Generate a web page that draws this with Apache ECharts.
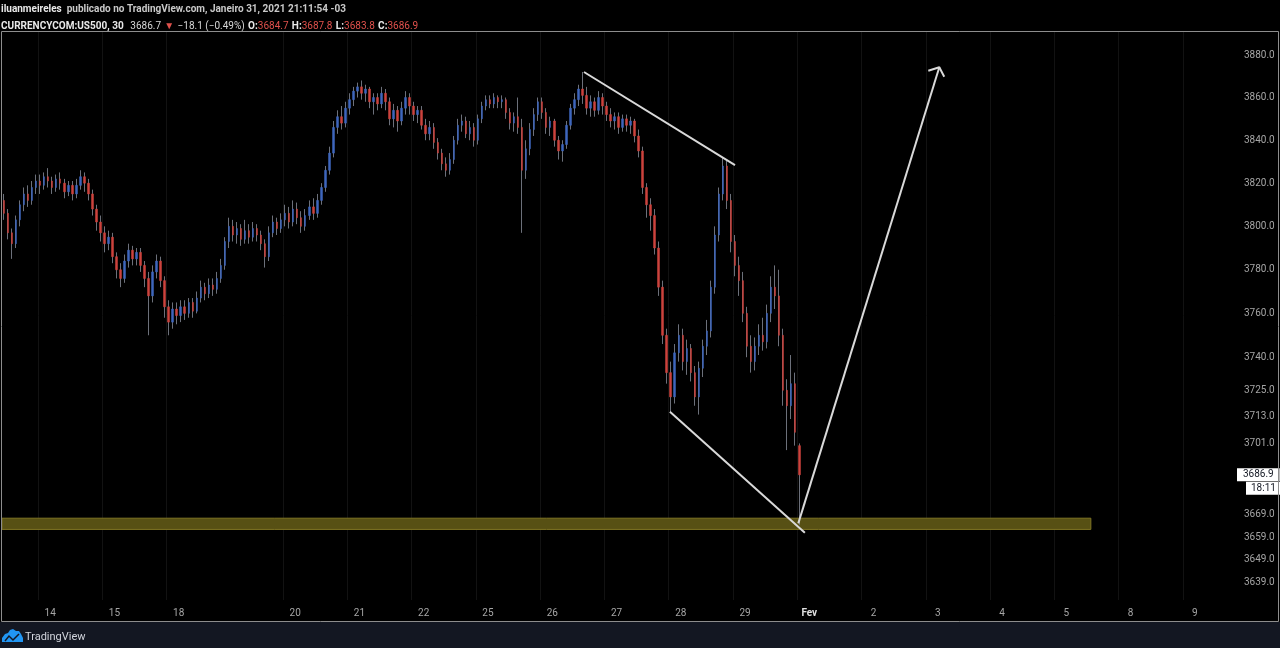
<!DOCTYPE html>
<html><head><meta charset="utf-8">
<script src="https://cdn.jsdelivr.net/npm/echarts@6/dist/echarts.min.js"></script>
<style>html,body{margin:0;padding:0;background:#000;overflow:hidden}#c{width:1280px;height:648px}</style>
</head><body><div id="c"></div>
<script>
// ---- sessions (30-min CFD, aggregated to ~16 bars per session) ----
const sessionLabels = ['13','14','15','18','19','20','21','22','25','26','27','28','29','Fev','2','3','4','5','8','9'];
const sessionSlots  = [9,16,16,13,16,16,16,16,16,16,16,16,16,16,16,16,16,16,16,11];
const hiddenLabels  = ['13','19'];

// ---- candles [open, close, low, high] ----
const jan13 = [[3812,3806,3803,3815],[3806,3797,3794,3808],[3797,3792,3785,3799],[3792,3803,3790,3805],[3803,3810,3800,3812],[3810,3815,3807,3818],[3815,3812,3809,3819],[3812,3818,3810,3821],[3818,3821,3815,3824]];
const jan14 = [[3821,3819,3815,3824],[3819,3823,3817,3825],[3823,3821,3818,3827],[3821,3818,3815,3823],[3818,3822,3816,3824],[3822,3820,3817,3825],[3820,3816,3813,3822],[3816,3819,3814,3821],[3819,3815,3812,3821],[3815,3819,3813,3822],[3819,3823,3817,3826],[3823,3820,3816,3825],[3820,3815,3812,3822],[3815,3808,3805,3817],[3808,3802,3798,3810],[3802,3797,3793,3805]];
const jan15 = [[3797,3792,3788,3800],[3792,3795,3789,3798],[3795,3786,3783,3797],[3786,3780,3776,3788],[3780,3776,3772,3783],[3776,3784,3774,3787],[3784,3789,3781,3792],[3789,3785,3782,3791],[3785,3788,3782,3790],[3788,3782,3779,3790],[3782,3776,3772,3784],[3776,3768,3750,3779],[3768,3779,3765,3782],[3779,3784,3776,3787],[3784,3775,3772,3786],[3775,3763,3758,3777]];
const jan18 = [[3763,3756,3750,3766],[3756,3762,3753,3765],[3762,3759,3755,3765],[3759,3763,3756,3766],[3763,3760,3757,3766],[3760,3765,3758,3767],[3765,3761,3758,3767],[3761,3767,3760,3770],[3767,3772,3765,3775],[3772,3769,3766,3774],[3769,3773,3767,3776],[3773,3771,3768,3776],[3771,3776,3769,3779]];
const jan19 = [[3776,3782,3774,3785],[3782,3793,3780,3795],[3793,3800,3790,3804],[3800,3796,3793,3803],[3796,3799,3792,3802],[3799,3794,3791,3801],[3794,3798,3792,3803],[3798,3795,3792,3801],[3795,3799,3793,3802],[3799,3796,3793,3801],[3796,3792,3789,3798],[3792,3786,3781,3794],[3786,3797,3784,3800],[3797,3802,3795,3805],[3802,3799,3796,3804],[3799,3803,3797,3806]];
const jan20 = [[3803,3806,3800,3810],[3806,3802,3799,3809],[3802,3808,3800,3812],[3808,3804,3801,3811],[3804,3800,3797,3807],[3800,3805,3798,3808],[3805,3809,3803,3812],[3809,3806,3803,3813],[3806,3812,3804,3815],[3812,3818,3810,3820],[3818,3826,3816,3828],[3826,3834,3824,3837],[3834,3846,3832,3849],[3846,3851,3843,3854],[3851,3848,3845,3856],[3848,3855,3846,3858]];
const jan21 = [[3855,3859,3852,3862],[3859,3863,3856,3865],[3863,3865,3860,3867],[3865,3862,3859,3868],[3862,3864,3858,3866],[3864,3858,3855,3865],[3858,3860,3852,3862],[3860,3857,3854,3862],[3857,3862,3855,3865],[3862,3858,3854,3864],[3858,3850,3847,3860],[3850,3854,3846,3857],[3854,3849,3844,3856],[3849,3855,3847,3858],[3855,3860,3852,3863],[3860,3856,3852,3862]];
const jan22 = [[3856,3852,3849,3858],[3852,3854,3848,3856],[3854,3847,3845,3856],[3847,3843,3840,3850],[3843,3846,3840,3849],[3846,3839,3836,3848],[3839,3834,3831,3841],[3834,3829,3826,3836],[3829,3826,3823,3832],[3826,3831,3824,3834],[3831,3840,3829,3842],[3840,3847,3838,3850],[3847,3849,3844,3852],[3849,3843,3841,3851],[3843,3846,3840,3849],[3846,3840,3837,3848]];
const jan25 = [[3840,3850,3838,3852],[3850,3856,3848,3858],[3856,3859,3854,3861],[3859,3857,3855,3861],[3857,3860,3855,3862],[3860,3858,3855,3861],[3858,3859,3855,3861],[3859,3853,3850,3860],[3853,3848,3845,3855],[3848,3851,3844,3853],[3851,3846,3843,3860],[3846,3826,3797,3850],[3826,3836,3822,3840],[3836,3845,3833,3848],[3845,3852,3842,3855],[3852,3858,3849,3860]];
const jan26 = [[3858,3853,3850,3860],[3853,3846,3843,3855],[3846,3849,3842,3851],[3849,3840,3837,3850],[3840,3835,3831,3842],[3835,3838,3830,3840],[3838,3847,3836,3849],[3847,3855,3845,3857],[3855,3859,3852,3862],[3859,3864,3856,3866],[3864,3861,3857,3872],[3861,3855,3852,3865],[3855,3858,3851,3861],[3858,3854,3851,3860],[3854,3860,3852,3863],[3860,3856,3852,3862]];
const jan27 = [[3856,3852,3849,3858],[3852,3849,3846,3855],[3849,3851,3845,3853],[3851,3846,3843,3853],[3846,3850,3844,3852],[3850,3847,3844,3852],[3847,3849,3843,3851],[3849,3842,3839,3850],[3842,3835,3832,3845],[3835,3818,3815,3837],[3818,3810,3804,3820],[3810,3805,3798,3813],[3805,3790,3787,3808],[3790,3772,3768,3793],[3772,3750,3746,3775],[3750,3733,3728,3753]];
const jan28 = [[3733,3722,3715,3738],[3722,3742,3719,3746],[3742,3750,3738,3755],[3750,3738,3734,3753],[3738,3744,3732,3748],[3744,3733,3729,3746],[3733,3722,3718,3736],[3722,3735,3714,3738],[3735,3745,3731,3748],[3745,3752,3741,3757],[3752,3772,3749,3775],[3772,3796,3769,3800],[3796,3815,3793,3818],[3815,3828,3812,3832],[3828,3812,3808,3831],[3812,3793,3788,3815]];
const jan29 = [[3793,3782,3777,3796],[3782,3775,3768,3786],[3775,3760,3756,3779],[3760,3745,3740,3763],[3745,3738,3733,3750],[3738,3745,3734,3749],[3745,3750,3741,3755],[3750,3747,3743,3758],[3747,3760,3744,3764],[3760,3772,3756,3777],[3772,3768,3762,3782],[3768,3750,3745,3780],[3750,3725,3718,3753],[3725,3718,3698,3730],[3718,3728,3712,3741],[3728,3706,3700,3733]];
const feb01 = [[3700,3686.9,3664.5,3701]];

// ---- price scale ticks (log scale) ----
const priceTicks = [3880,3860,3840,3820,3800,3780,3760,3740,3725,3713,3701,3669,3659,3649,3639];
const paneTopPrice = 3891.35, paneBottomPrice = 3631.2;
const lastPrice = 3686.9, countdownText = '18:11', countdownLevel = 3680.9;

// ---- drawings [slot, price] ----
const upperTrend = [[144.4,3872.0],[182.0,3828.4]];
const lowerTrend = [[165.8,3715.3],[199.4,3661.0]];
const arrowShaft = [[197.76,3665.2],[232.87,3874.2]];
const arrowHead  = [[230.13,3872.6],[232.87,3874.2],[234.1,3869.8]];
const zoneX = [-0.5, 270.6], zonePrice = [3667.5, 3662.5];

// ---- build ----
const days = [jan13,jan14,jan15,jan18,jan19,jan20,jan21,jan22,jan25,jan26,jan27,jan28,jan29,feb01];
const L = Math.log;
const wicks = [], bodies = [];
let k = 0;
days.forEach(d => d.forEach(c => {
  wicks.push([k, L(c[0]), L(c[1]), L(c[2]), L(c[3])]);
  bodies.push([k, L(c[0]), L(c[1]), L(Math.min(c[0],c[1])), L(Math.max(c[0],c[1]))]);
  k++;
}));
const totalSlots = sessionSlots.reduce((a,b)=>a+b,0);
const gridVals = [], labelVals = [], labelTexts = [];
let s = 0;
sessionLabels.forEach((lab,i) => {
  if (hiddenLabels.indexOf(lab) < 0) { gridVals.push(s - 0.5); labelVals.push(s + 2.5); labelTexts.push(lab); }
  s += sessionSlots[i];
});
const toLn = arr => arr.map(p => [p[0], L(p[1])]);
const ff = 'Roboto, "Liberation Sans", sans-serif';
const drawLine = (data) => ({ type:'line', data: toLn(data), symbol:'none', silent:true, z:5,
  lineStyle:{ color:'#d9d9d9', width:2 } });
const priceLabel = (level, text, dist, pad) => ({ type:'line', silent:true, z:6, symbol:'none',
  data:[[-0.5, L(level)], [totalSlots - 0.5, L(level)]],
  lineStyle:{ color:'rgba(0,0,0,0)', width:1 },
  endLabel:{ show:true, formatter:text, distance:dist, padding:pad, backgroundColor:'#ffffff',
    color:'#131722', fontFamily:ff, fontSize:10, lineHeight:12 } });

const chart = echarts.init(document.getElementById('c'), null, {renderer:'canvas'});
chart.setOption({
  backgroundColor:'#000',
  animation:false,
  title:{
    left:1, top:0, padding:0, itemGap:2,
    text:'{b|iluanmeireles} {n|publicado no TradingView.com, Janeiro 31, 2021 21:11:54 -03}',
    textStyle:{ rich:{
      b:{ fontFamily:ff, fontSize:10, fontWeight:'bold', color:'#e8e8e8', lineHeight:13 },
      n:{ fontFamily:ff, fontSize:10, color:'#c9c9c9', lineHeight:13 } } },
    subtext:'{b|CURRENCYCOM:US500, 30}  {w|3686.7} {r|▼} {w|−18.1 (−0.49%)} {b|O:}{r|3684.7} {b|H:}{r|3687.8} {b|L:}{r|3683.8} {b|C:}{r|3686.9}',
    subtextStyle:{ rich:{
      b:{ fontFamily:ff, fontSize:10, fontWeight:'bold', color:'#e8e8e8', lineHeight:13 },
      w:{ fontFamily:ff, fontSize:10, color:'#d6d6d6', lineHeight:13 },
      r:{ fontFamily:ff, fontSize:10, color:'#e0514c', lineHeight:13 } } }
  },
  grid:{ left:2, right:53, top:31, bottom:48 },
  xAxis:{
    type:'value', min:-0.5, max:totalSlots - 0.5,
    axisLine:{show:false},
    axisTick:{show:false, customValues:gridVals},
    splitLine:{show:true, lineStyle:{color:'#121212', width:1}},
    axisLabel:{
      customValues:labelVals, margin:8, color:'#a6a6a6', fontFamily:ff, fontSize:10,
      formatter:(v) => {
        let bi = 0, bd = 1e9;
        labelVals.forEach((lv,i) => { const d = Math.abs(lv - v); if (d < bd) { bd = d; bi = i; } });
        const t = labelTexts[bi];
        return t === 'Fev' ? '{m|Fev}' : t;
      },
      rich:{ m:{ color:'#e0e0e0', fontWeight:'bold', fontFamily:ff, fontSize:10 } }
    }
  },
  yAxis:{
    type:'value', position:'right', min:L(paneBottomPrice), max:L(paneTopPrice), scale:true,
    axisLine:{show:false}, axisTick:{show:false}, splitLine:{show:false},
    axisLabel:{ customValues:priceTicks.map(L), align:'left', margin:17, color:'#a6a6a6',
      fontFamily:ff, fontSize:10, formatter:(v) => Math.exp(v).toFixed(1) }
  },
  series:[
    { type:'candlestick', data:wicks, barWidth:1, silent:true, z:2,
      itemStyle:{ color:'#6c707a', color0:'#6c707a', borderColor:'#6c707a', borderColor0:'#6c707a', borderWidth:1 },
      markArea:{ silent:true, z:1,
        itemStyle:{ color:'#575014', borderColor:'#7f7524', borderWidth:1 },
        data:[[ {xAxis:zoneX[0], yAxis:L(zonePrice[0])}, {xAxis:zoneX[1], yAxis:L(zonePrice[1])} ]] } },
    { type:'candlestick', data:bodies, barWidth:2, silent:true, z:3,
      itemStyle:{ color:'#3e66bd', color0:'#cc433d', borderColor:'#3e66bd', borderColor0:'#cc433d', borderWidth:0.5 } },
    drawLine(upperTrend),
    drawLine(lowerTrend),
    drawLine(arrowShaft),
    drawLine(arrowHead),
    priceLabel(lastPrice, lastPrice.toFixed(1), 10, [1,6,0,6]),
    priceLabel(countdownLevel, countdownText, 19, [1,6,0,5])
  ],
  graphic:[
    { type:'rect', z:100, silent:true, shape:{x:0, y:622, width:1280, height:26}, style:{fill:'#131722'} },
    { type:'rect', z:101, silent:true, shape:{x:1.5, y:31.5, width:1277, height:590}, style:{fill:'none', stroke:'#8d8d8d', lineWidth:1} },
    { type:'polygon', z:101, silent:true,
      shape:{ points:[[2,642],[2,638],[5,634],[8,633],[10,630],[13,629],[16,631],[19,631],[21,634],[23,638],[23,642]] },
      style:{ fill:'#2196f3' } },
    { type:'polyline', z:102, silent:true, shape:{ points:[[5,641],[9,636],[13,640],[19,634]] }, style:{ stroke:'#131722', lineWidth:1.5, fill:'none' } },
    { type:'text', z:101, silent:true, x:25, y:637,
      style:{ text:'TradingView', fill:'#d1d4dc', font:'11px '+ff, verticalAlign:'middle' } }
  ]
});
</script></body></html>
